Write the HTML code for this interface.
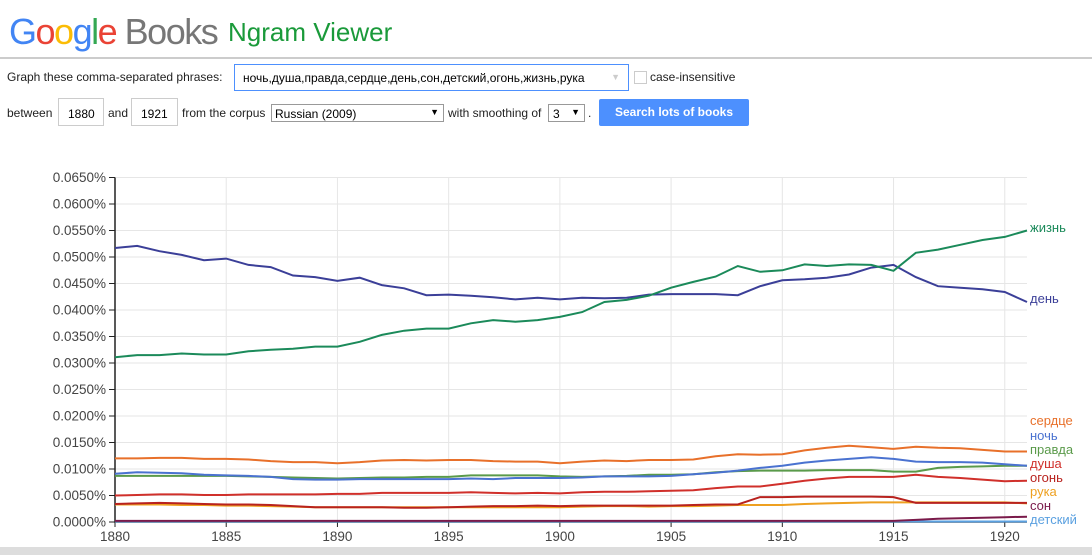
<!DOCTYPE html>
<html><head><meta charset="utf-8">
<style>
body{margin:0;width:1092px;height:555px;overflow:hidden;background:#fff;font-family:"Liberation Sans","Noto Sans CJK SC",sans-serif;position:relative}
.a{position:absolute}
.t{font-size:12px;color:#222}
.box{position:absolute;border:1px solid #ccc;background:#fff;font-size:12px;box-sizing:border-box}
</style></head><body>
<div class="a" style="left:9px;top:11px;font-size:36px;letter-spacing:-1.5px;white-space:nowrap"><span style="color:#4285f4">G</span><span style="color:#ea4335">o</span><span style="color:#fbbc05">o</span><span style="color:#4285f4">g</span><span style="color:#34a853">l</span><span style="color:#ea4335">e</span> <span style="color:#777">Books</span></div>
<div class="a" style="left:228px;top:17px;font-size:26px;color:#1a9a3a">Ngram Viewer</div>
<div class="a" style="left:0;top:57px;width:1092px;height:2px;background:#ccc"></div>
<div class="a t" style="left:7px;top:70px">Graph these comma-separated phrases:</div>
<div class="box" style="left:234px;top:64px;width:395px;height:27px;border:1px solid #4d90fe;padding:6px 0 0 8px">ночь,душа,правда,сердце,день,сон,детский,огонь,жизнь,рука<span style="position:absolute;right:8px;top:7px;color:#ccc;font-size:9px">▼</span></div>
<div class="box" style="left:634px;top:71px;width:13px;height:13px"></div>
<div class="a t" style="left:650px;top:70px">case-insensitive</div>
<div class="a t" style="left:7px;top:106px">between</div>
<div class="box" style="left:58px;top:98px;width:46px;height:28px;padding:8px 0 0 9px">1880</div>
<div class="a t" style="left:108px;top:106px">and</div>
<div class="box" style="left:131px;top:98px;width:47px;height:28px;padding:8px 0 0 9px">1921</div>
<div class="a t" style="left:182px;top:106px">from the corpus</div>
<div class="box" style="left:271px;top:104px;width:173px;height:18px;border-color:#999;padding:2px 0 0 3px">Russian (2009)<span style="position:absolute;right:4px;top:2px;font-size:9px">▼</span></div>
<div class="a t" style="left:448px;top:106px">with smoothing of</div>
<div class="box" style="left:548px;top:104px;width:37px;height:18px;border-color:#999;padding:2px 0 0 4px">3<span style="position:absolute;right:4px;top:2px;font-size:9px">▼</span></div>
<div class="a t" style="left:588px;top:106px">.</div>
<div class="a" style="left:599px;top:99px;width:150px;height:27px;background:#4d90fe;border-radius:2px;color:#fff;font-size:12px;font-weight:bold;text-align:center;line-height:27px">Search lots of books</div>
<svg class="a" style="left:0;top:0" width="1092" height="555" id="chart"></svg>
<div class="a" style="left:0;top:547px;width:1092px;height:8px;background:#ddd"></div>
<script>
const years=[];for(let y=1880;y<=1921;y++)years.push(y);
const seriesNames=["жизнь","день","сердце","ночь","правда","душа","огонь","рука","сон","детский"];
const seriesColors=["#1b8a5a","#3b3f98","#e8702a","#4a72d0","#5a9a4a","#d0302b","#b8221e","#eea020","#7a1a4a","#5aa0e0"];
const zhizn=[0.0311,0.0315,0.0315,0.0318,0.0316,0.0316,0.0322,0.0325,0.0327,0.0331,0.0331,0.0340,0.0353,0.0361,0.0365,0.0365,0.0375,0.0381,0.0378,0.0381,0.0387,0.0396,0.0415,0.0419,0.0427,0.0442,0.0453,0.0463,0.0483,0.0472,0.0475,0.0486,0.0483,0.0486,0.0485,0.0474,0.0508,0.0514,0.0523,0.0532,0.0538,0.0550];
const den=[0.0517,0.0521,0.0511,0.0504,0.0494,0.0497,0.0485,0.0481,0.0465,0.0462,0.0455,0.0461,0.0447,0.0441,0.0428,0.0429,0.0427,0.0424,0.0420,0.0423,0.0420,0.0423,0.0422,0.0423,0.0429,0.0430,0.0430,0.0430,0.0428,0.0445,0.0456,0.0458,0.0461,0.0467,0.0480,0.0485,0.0462,0.0445,0.0442,0.0439,0.0434,0.0415];
const serdce=[0.0120,0.0120,0.0121,0.0121,0.0119,0.0119,0.0118,0.0115,0.0113,0.0113,0.0111,0.0113,0.0116,0.0117,0.0116,0.0117,0.0117,0.0115,0.0114,0.0114,0.0111,0.0114,0.0116,0.0115,0.0117,0.0117,0.0118,0.0124,0.0128,0.0127,0.0128,0.0135,0.0140,0.0144,0.0141,0.0138,0.0142,0.0140,0.0139,0.0136,0.0133,0.0133];
const noch=[0.0091,0.0094,0.0093,0.0092,0.0089,0.0088,0.0087,0.0085,0.0081,0.0080,0.0080,0.0081,0.0081,0.0081,0.0081,0.0081,0.0082,0.0081,0.0083,0.0083,0.0083,0.0084,0.0086,0.0086,0.0086,0.0087,0.0090,0.0093,0.0097,0.0102,0.0106,0.0112,0.0116,0.0119,0.0122,0.0119,0.0114,0.0113,0.0113,0.0112,0.0109,0.0106];
const pravda=[0.0087,0.0087,0.0087,0.0087,0.0087,0.0087,0.0086,0.0085,0.0084,0.0083,0.0082,0.0083,0.0084,0.0084,0.0085,0.0085,0.0088,0.0088,0.0088,0.0088,0.0086,0.0085,0.0086,0.0087,0.0089,0.0089,0.0090,0.0094,0.0096,0.0097,0.0097,0.0097,0.0098,0.0098,0.0098,0.0095,0.0095,0.0102,0.0104,0.0105,0.0106,0.0106];
const dusha=[0.0050,0.0051,0.0052,0.0052,0.0051,0.0051,0.0052,0.0052,0.0052,0.0052,0.0053,0.0053,0.0055,0.0055,0.0055,0.0055,0.0056,0.0055,0.0054,0.0055,0.0054,0.0056,0.0057,0.0057,0.0058,0.0059,0.0060,0.0064,0.0067,0.0067,0.0072,0.0078,0.0082,0.0085,0.0085,0.0085,0.0089,0.0085,0.0083,0.0080,0.0077,0.0078];
const ogon=[0.0034,0.0035,0.0036,0.0035,0.0034,0.0033,0.0033,0.0032,0.0030,0.0028,0.0028,0.0028,0.0028,0.0027,0.0027,0.0028,0.0029,0.0030,0.0030,0.0031,0.0030,0.0031,0.0031,0.0031,0.0031,0.0031,0.0032,0.0033,0.0033,0.0047,0.0047,0.0048,0.0048,0.0048,0.0048,0.0047,0.0036,0.0036,0.0036,0.0036,0.0036,0.0036];
const ruka=[0.0033,0.0033,0.0033,0.0032,0.0032,0.0031,0.0031,0.0030,0.0029,0.0028,0.0028,0.0028,0.0028,0.0028,0.0028,0.0028,0.0028,0.0028,0.0028,0.0028,0.0028,0.0029,0.0030,0.0030,0.0029,0.0030,0.0030,0.0031,0.0032,0.0032,0.0032,0.0034,0.0035,0.0036,0.0037,0.0037,0.0037,0.0037,0.0037,0.0037,0.0037,0.0035];
const son=[0.0002,0.0002,0.0002,0.0002,0.0002,0.0002,0.0002,0.0002,0.0002,0.0002,0.0002,0.0002,0.0002,0.0002,0.0002,0.0002,0.0002,0.0002,0.0002,0.0002,0.0002,0.0002,0.0002,0.0002,0.0002,0.0002,0.0002,0.0002,0.0002,0.0002,0.0002,0.0002,0.0002,0.0002,0.0002,0.0002,0.0004,0.0006,0.0007,0.0008,0.0009,0.0010];
const detskiy=[0.0001,0.0001,0.0001,0.0001,0.0001,0.0001,0.0001,0.0001,0.0001,0.0001,0.0001,0.0001,0.0001,0.0001,0.0001,0.0001,0.0001,0.0001,0.0001,0.0001,0.0001,0.0001,0.0001,0.0001,0.0001,0.0001,0.0001,0.0001,0.0001,0.0001,0.0001,0.0001,0.0001,0.0001,0.0001,0.0001,0.0001,0.0001,0.0001,0.0001,0.0001,0.0001];
const labelY=[227,298,420,435,449,463,477,491,505,519];
const yTicks=[0,0.005,0.01,0.015,0.02,0.025,0.03,0.035,0.04,0.045,0.05,0.055,0.06,0.065];
const xTicks=[1880,1885,1890,1895,1900,1905,1910,1915,1920];
const allSeries=[zhizn,den,serdce,noch,pravda,dusha,ogon,ruka,son,detskiy];
const X0=115,X1=1027,Y0=522,Y1=177.5;
const xs=y=>X0+(y-1880)/(1921-1880)*(X1-X0);
const ys=v=>Y0-v/0.065*(Y0-Y1);
const svg=document.getElementById('chart');const NS='http://www.w3.org/2000/svg';
function mk(tag,attrs){const e=document.createElementNS(NS,tag);for(const k in attrs)e.setAttribute(k,attrs[k]);svg.appendChild(e);return e;}
yTicks.forEach(v=>{
const g=mk('line',{x1:X0,x2:X1,y1:ys(v),y2:ys(v),stroke:'#e6e6e6'});


const tk=mk('line',{x1:X0-6,x2:X0,y1:ys(v),y2:ys(v),stroke:'#222'});


const t=mk('text',{x:X0-9,y:ys(v)+4.5,'text-anchor':'end','font-size':'13.5','fill':'#444','font-family':'Liberation Sans, sans-serif'});
t.textContent=v.toFixed(4)+'%';


});
xTicks.forEach(y=>{
if(y>1880){const g=mk('line',{x1:xs(y),x2:xs(y),y1:Y1,y2:Y0,stroke:'#e6e6e6'});

}
const tk=mk('line',{x1:xs(y),x2:xs(y),y1:Y0,y2:Y0+5,stroke:'#222'});


const t=mk('text',{x:xs(y),y:Y0+19,'text-anchor':'middle','font-size':'13.5','fill':'#444','font-family':'Liberation Sans, sans-serif'});
t.textContent=y;


});
const ax=mk('path',{d:`M${X0} ${Y1}V${Y0}H${X1}`,stroke:'#222','stroke-width':1.5,fill:'none'});


for(let i=allSeries.length-1;i>=0;i--){
const d=allSeries[i].map((v,j)=>(j?'L':'M')+xs(years[j]).toFixed(1)+' '+ys(v).toFixed(1)).join('');
const p=mk('path',{d:d,stroke:seriesColors[i],'stroke-width':2,fill:'none'});


const t=mk('text',{x:1030,y:labelY[i]+5,'font-size':'13','fill':seriesColors[i],'font-family':'Liberation Sans, DejaVu Sans, sans-serif'});
t.textContent=seriesNames[i];


}
</script>
</body></html>
